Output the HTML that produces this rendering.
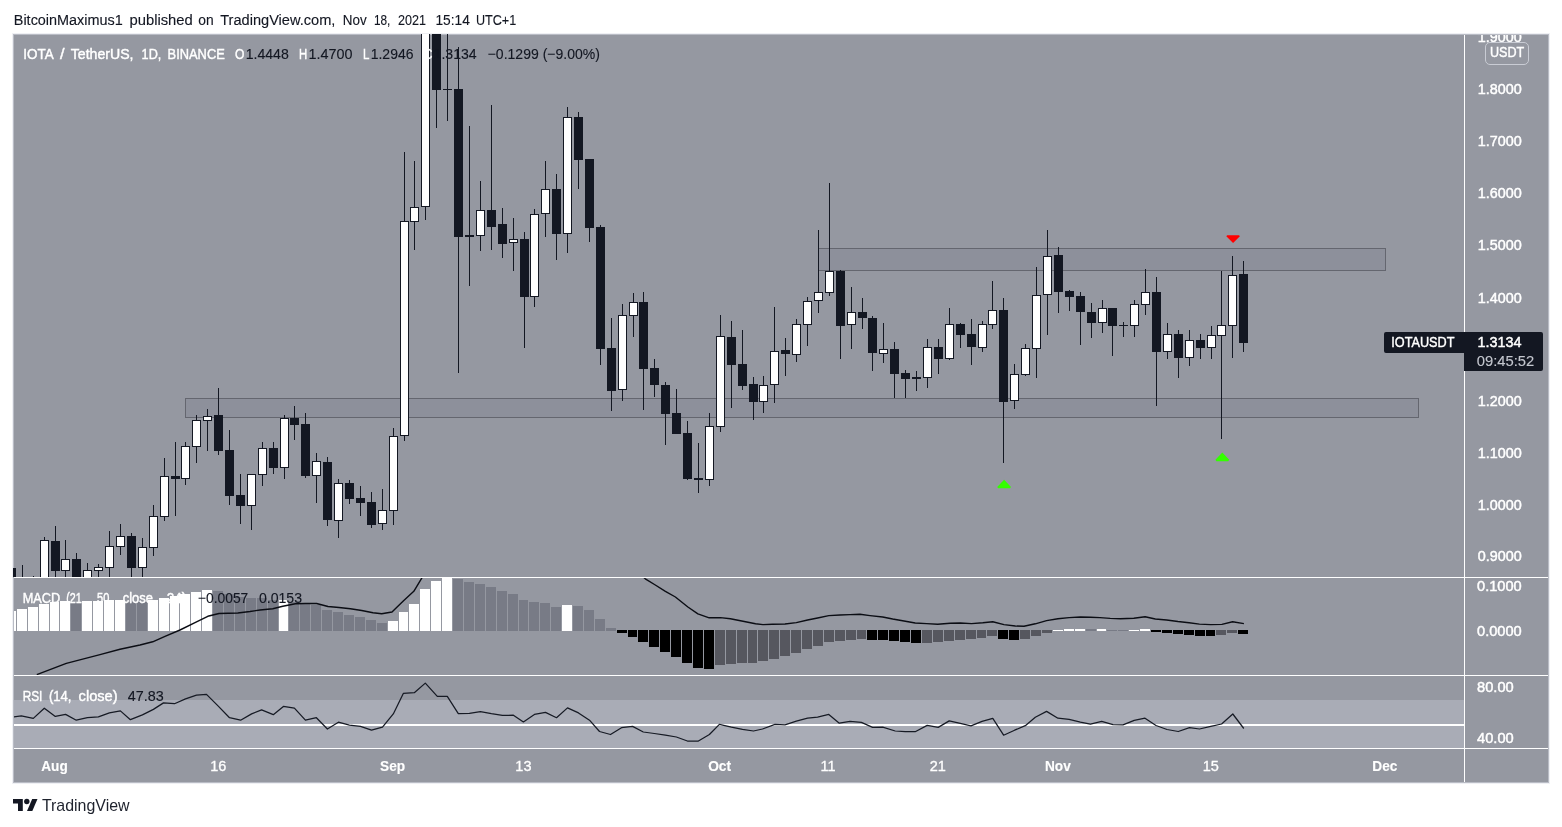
<!DOCTYPE html>
<html lang="en"><head><meta charset="utf-8"><title>IOTA / TetherUS chart</title>
<style>html,body{margin:0;padding:0;background:#fff}body{width:1562px;height:827px;overflow:hidden;position:relative;font-family:"Liberation Sans",sans-serif}</style></head>
<body>
<svg width="1562" height="827" viewBox="0 0 1562 827" style="position:absolute;left:0;top:0;display:block" font-family="'Liberation Sans', sans-serif">
<defs><clipPath id="cm"><rect x="13" y="34" width="1451" height="543"/></clipPath>
<clipPath id="cd"><rect x="14" y="578" width="1450" height="97"/></clipPath>
<clipPath id="cr"><rect x="14" y="676" width="1450" height="72"/></clipPath>
<clipPath id="ca"><rect x="1465" y="35" width="83" height="542"/></clipPath></defs>
<rect x="0" y="0" width="1562" height="827" fill="#ffffff"/>
<rect x="12" y="33" width="1538" height="751" fill="#eff0f4" shape-rendering="crispEdges"/>
<rect x="13" y="34" width="1536" height="749" fill="#b9bcc5" shape-rendering="crispEdges"/>
<rect x="14" y="35" width="1534" height="747" fill="#9598a1" shape-rendering="crispEdges"/>
<g clip-path="url(#cm)" shape-rendering="crispEdges">
<rect x="185.5" y="398.5" width="1233" height="19" fill="#8d909b" stroke="#64666f" stroke-width="1"/>
<rect x="818.5" y="248.5" width="567" height="22" fill="#8d909b" stroke="#64666f" stroke-width="1"/>
<rect x="11" y="568" width="1" height="32" fill="#131722"/>
<rect x="7" y="568" width="9" height="33" fill="#131722"/>
<rect x="22" y="565" width="1" height="35" fill="#131722"/>
<rect x="18" y="600" width="9" height="1" fill="#131722"/>
<rect x="33" y="576" width="1" height="24" fill="#131722"/>
<rect x="29" y="600" width="9" height="1" fill="#131722"/>
<rect x="44" y="537" width="1" height="63" fill="#131722"/>
<rect x="40" y="540" width="9" height="61" fill="#131722"/>
<rect x="41" y="541" width="7" height="59" fill="#ffffff"/>
<rect x="55" y="526" width="1" height="74" fill="#131722"/>
<rect x="51" y="541" width="9" height="30" fill="#131722"/>
<rect x="65" y="540" width="1" height="60" fill="#131722"/>
<rect x="61" y="559" width="9" height="12" fill="#131722"/>
<rect x="62" y="560" width="7" height="10" fill="#ffffff"/>
<rect x="76" y="553" width="1" height="47" fill="#131722"/>
<rect x="72" y="559" width="9" height="42" fill="#131722"/>
<rect x="87" y="563" width="1" height="37" fill="#131722"/>
<rect x="83" y="570" width="9" height="31" fill="#131722"/>
<rect x="84" y="571" width="7" height="29" fill="#ffffff"/>
<rect x="98" y="564" width="1" height="36" fill="#131722"/>
<rect x="94" y="567" width="9" height="4" fill="#131722"/>
<rect x="95" y="568" width="7" height="2" fill="#ffffff"/>
<rect x="109" y="531" width="1" height="69" fill="#131722"/>
<rect x="105" y="546" width="9" height="22" fill="#131722"/>
<rect x="106" y="547" width="7" height="20" fill="#ffffff"/>
<rect x="120" y="524" width="1" height="31" fill="#131722"/>
<rect x="116" y="536" width="9" height="11" fill="#131722"/>
<rect x="117" y="537" width="7" height="9" fill="#ffffff"/>
<rect x="131" y="533" width="1" height="67" fill="#131722"/>
<rect x="127" y="536" width="9" height="32" fill="#131722"/>
<rect x="142" y="538" width="1" height="62" fill="#131722"/>
<rect x="138" y="547" width="9" height="21" fill="#131722"/>
<rect x="139" y="548" width="7" height="19" fill="#ffffff"/>
<rect x="153" y="505" width="1" height="51" fill="#131722"/>
<rect x="149" y="516" width="9" height="32" fill="#131722"/>
<rect x="150" y="517" width="7" height="30" fill="#ffffff"/>
<rect x="164" y="458" width="1" height="63" fill="#131722"/>
<rect x="160" y="476" width="9" height="41" fill="#131722"/>
<rect x="161" y="477" width="7" height="39" fill="#ffffff"/>
<rect x="175" y="442" width="1" height="74" fill="#131722"/>
<rect x="171" y="476" width="9" height="3" fill="#131722"/>
<rect x="185" y="442" width="1" height="43" fill="#131722"/>
<rect x="181" y="446" width="9" height="33" fill="#131722"/>
<rect x="182" y="447" width="7" height="31" fill="#ffffff"/>
<rect x="196" y="415" width="1" height="48" fill="#131722"/>
<rect x="192" y="420" width="9" height="27" fill="#131722"/>
<rect x="193" y="421" width="7" height="25" fill="#ffffff"/>
<rect x="207" y="409" width="1" height="42" fill="#131722"/>
<rect x="203" y="416" width="9" height="5" fill="#131722"/>
<rect x="204" y="417" width="7" height="3" fill="#ffffff"/>
<rect x="218" y="388" width="1" height="67" fill="#131722"/>
<rect x="214" y="415" width="9" height="36" fill="#131722"/>
<rect x="229" y="430" width="1" height="75" fill="#131722"/>
<rect x="225" y="450" width="9" height="46" fill="#131722"/>
<rect x="240" y="474" width="1" height="50" fill="#131722"/>
<rect x="236" y="495" width="9" height="11" fill="#131722"/>
<rect x="251" y="474" width="1" height="56" fill="#131722"/>
<rect x="247" y="474" width="9" height="32" fill="#131722"/>
<rect x="248" y="475" width="7" height="30" fill="#ffffff"/>
<rect x="262" y="442" width="1" height="44" fill="#131722"/>
<rect x="258" y="448" width="9" height="27" fill="#131722"/>
<rect x="259" y="449" width="7" height="25" fill="#ffffff"/>
<rect x="273" y="442" width="1" height="32" fill="#131722"/>
<rect x="269" y="448" width="9" height="20" fill="#131722"/>
<rect x="284" y="415" width="1" height="64" fill="#131722"/>
<rect x="280" y="418" width="9" height="50" fill="#131722"/>
<rect x="281" y="419" width="7" height="48" fill="#ffffff"/>
<rect x="294" y="406" width="1" height="34" fill="#131722"/>
<rect x="290" y="418" width="9" height="7" fill="#131722"/>
<rect x="305" y="413" width="1" height="65" fill="#131722"/>
<rect x="301" y="424" width="9" height="52" fill="#131722"/>
<rect x="316" y="453" width="1" height="50" fill="#131722"/>
<rect x="312" y="461" width="9" height="15" fill="#131722"/>
<rect x="313" y="462" width="7" height="13" fill="#ffffff"/>
<rect x="327" y="457" width="1" height="69" fill="#131722"/>
<rect x="323" y="462" width="9" height="58" fill="#131722"/>
<rect x="338" y="479" width="1" height="59" fill="#131722"/>
<rect x="334" y="483" width="9" height="38" fill="#131722"/>
<rect x="335" y="484" width="7" height="36" fill="#ffffff"/>
<rect x="349" y="480" width="1" height="24" fill="#131722"/>
<rect x="345" y="483" width="9" height="16" fill="#131722"/>
<rect x="360" y="486" width="1" height="30" fill="#131722"/>
<rect x="356" y="498" width="9" height="5" fill="#131722"/>
<rect x="371" y="492" width="1" height="36" fill="#131722"/>
<rect x="367" y="502" width="9" height="23" fill="#131722"/>
<rect x="382" y="489" width="1" height="41" fill="#131722"/>
<rect x="378" y="510" width="9" height="14" fill="#131722"/>
<rect x="379" y="511" width="7" height="12" fill="#ffffff"/>
<rect x="393" y="428" width="1" height="97" fill="#131722"/>
<rect x="389" y="436" width="9" height="75" fill="#131722"/>
<rect x="390" y="437" width="7" height="73" fill="#ffffff"/>
<rect x="404" y="152" width="1" height="289" fill="#131722"/>
<rect x="400" y="221" width="9" height="215" fill="#131722"/>
<rect x="401" y="222" width="7" height="213" fill="#ffffff"/>
<rect x="414" y="161" width="1" height="89" fill="#131722"/>
<rect x="410" y="207" width="9" height="15" fill="#131722"/>
<rect x="411" y="208" width="7" height="13" fill="#ffffff"/>
<rect x="425" y="20" width="1" height="200" fill="#131722"/>
<rect x="421" y="20" width="9" height="187" fill="#131722"/>
<rect x="422" y="21" width="7" height="185" fill="#ffffff"/>
<rect x="436" y="20" width="1" height="108" fill="#131722"/>
<rect x="432" y="20" width="9" height="70" fill="#131722"/>
<rect x="447" y="20" width="1" height="101" fill="#131722"/>
<rect x="443" y="89" width="9" height="1" fill="#131722"/>
<rect x="458" y="47" width="1" height="326" fill="#131722"/>
<rect x="454" y="89" width="9" height="148" fill="#131722"/>
<rect x="469" y="126" width="1" height="160" fill="#131722"/>
<rect x="465" y="235" width="9" height="2" fill="#131722"/>
<rect x="480" y="181" width="1" height="70" fill="#131722"/>
<rect x="476" y="210" width="9" height="26" fill="#131722"/>
<rect x="477" y="211" width="7" height="24" fill="#ffffff"/>
<rect x="491" y="105" width="1" height="145" fill="#131722"/>
<rect x="487" y="210" width="9" height="17" fill="#131722"/>
<rect x="502" y="208" width="1" height="50" fill="#131722"/>
<rect x="498" y="224" width="9" height="20" fill="#131722"/>
<rect x="513" y="218" width="1" height="53" fill="#131722"/>
<rect x="509" y="239" width="9" height="4" fill="#131722"/>
<rect x="510" y="240" width="7" height="2" fill="#ffffff"/>
<rect x="524" y="232" width="1" height="116" fill="#131722"/>
<rect x="520" y="239" width="9" height="58" fill="#131722"/>
<rect x="534" y="209" width="1" height="98" fill="#131722"/>
<rect x="530" y="214" width="9" height="83" fill="#131722"/>
<rect x="531" y="215" width="7" height="81" fill="#ffffff"/>
<rect x="545" y="161" width="1" height="76" fill="#131722"/>
<rect x="541" y="189" width="9" height="25" fill="#131722"/>
<rect x="542" y="190" width="7" height="23" fill="#ffffff"/>
<rect x="556" y="174" width="1" height="86" fill="#131722"/>
<rect x="552" y="189" width="9" height="45" fill="#131722"/>
<rect x="567" y="107" width="1" height="146" fill="#131722"/>
<rect x="563" y="117" width="9" height="117" fill="#131722"/>
<rect x="564" y="118" width="7" height="115" fill="#ffffff"/>
<rect x="578" y="112" width="1" height="77" fill="#131722"/>
<rect x="574" y="117" width="9" height="43" fill="#131722"/>
<rect x="589" y="159" width="1" height="83" fill="#131722"/>
<rect x="585" y="159" width="9" height="69" fill="#131722"/>
<rect x="600" y="225" width="1" height="140" fill="#131722"/>
<rect x="596" y="227" width="9" height="122" fill="#131722"/>
<rect x="611" y="318" width="1" height="93" fill="#131722"/>
<rect x="607" y="348" width="9" height="43" fill="#131722"/>
<rect x="622" y="304" width="1" height="97" fill="#131722"/>
<rect x="618" y="315" width="9" height="75" fill="#131722"/>
<rect x="619" y="316" width="7" height="73" fill="#ffffff"/>
<rect x="633" y="293" width="1" height="44" fill="#131722"/>
<rect x="629" y="302" width="9" height="14" fill="#131722"/>
<rect x="630" y="303" width="7" height="12" fill="#ffffff"/>
<rect x="643" y="292" width="1" height="118" fill="#131722"/>
<rect x="639" y="302" width="9" height="67" fill="#131722"/>
<rect x="654" y="359" width="1" height="38" fill="#131722"/>
<rect x="650" y="368" width="9" height="17" fill="#131722"/>
<rect x="665" y="382" width="1" height="63" fill="#131722"/>
<rect x="661" y="385" width="9" height="29" fill="#131722"/>
<rect x="676" y="389" width="1" height="45" fill="#131722"/>
<rect x="672" y="413" width="9" height="21" fill="#131722"/>
<rect x="687" y="421" width="1" height="59" fill="#131722"/>
<rect x="683" y="433" width="9" height="46" fill="#131722"/>
<rect x="698" y="443" width="1" height="50" fill="#131722"/>
<rect x="694" y="478" width="9" height="2" fill="#131722"/>
<rect x="709" y="413" width="1" height="73" fill="#131722"/>
<rect x="705" y="426" width="9" height="54" fill="#131722"/>
<rect x="706" y="427" width="7" height="52" fill="#ffffff"/>
<rect x="720" y="315" width="1" height="117" fill="#131722"/>
<rect x="716" y="336" width="9" height="91" fill="#131722"/>
<rect x="717" y="337" width="7" height="89" fill="#ffffff"/>
<rect x="731" y="321" width="1" height="87" fill="#131722"/>
<rect x="727" y="337" width="9" height="28" fill="#131722"/>
<rect x="742" y="330" width="1" height="60" fill="#131722"/>
<rect x="738" y="364" width="9" height="22" fill="#131722"/>
<rect x="753" y="377" width="1" height="43" fill="#131722"/>
<rect x="749" y="384" width="9" height="18" fill="#131722"/>
<rect x="763" y="376" width="1" height="37" fill="#131722"/>
<rect x="759" y="385" width="9" height="17" fill="#131722"/>
<rect x="760" y="386" width="7" height="15" fill="#ffffff"/>
<rect x="774" y="307" width="1" height="96" fill="#131722"/>
<rect x="770" y="351" width="9" height="34" fill="#131722"/>
<rect x="771" y="352" width="7" height="32" fill="#ffffff"/>
<rect x="785" y="338" width="1" height="38" fill="#131722"/>
<rect x="781" y="350" width="9" height="4" fill="#131722"/>
<rect x="796" y="319" width="1" height="43" fill="#131722"/>
<rect x="792" y="324" width="9" height="31" fill="#131722"/>
<rect x="793" y="325" width="7" height="29" fill="#ffffff"/>
<rect x="807" y="297" width="1" height="49" fill="#131722"/>
<rect x="803" y="301" width="9" height="24" fill="#131722"/>
<rect x="804" y="302" width="7" height="22" fill="#ffffff"/>
<rect x="818" y="230" width="1" height="83" fill="#131722"/>
<rect x="814" y="292" width="9" height="9" fill="#131722"/>
<rect x="815" y="293" width="7" height="7" fill="#ffffff"/>
<rect x="829" y="183" width="1" height="113" fill="#131722"/>
<rect x="825" y="271" width="9" height="22" fill="#131722"/>
<rect x="826" y="272" width="7" height="20" fill="#ffffff"/>
<rect x="840" y="270" width="1" height="89" fill="#131722"/>
<rect x="836" y="271" width="9" height="55" fill="#131722"/>
<rect x="851" y="287" width="1" height="62" fill="#131722"/>
<rect x="847" y="312" width="9" height="13" fill="#131722"/>
<rect x="848" y="313" width="7" height="11" fill="#ffffff"/>
<rect x="862" y="298" width="1" height="31" fill="#131722"/>
<rect x="858" y="312" width="9" height="6" fill="#131722"/>
<rect x="872" y="316" width="1" height="55" fill="#131722"/>
<rect x="868" y="318" width="9" height="35" fill="#131722"/>
<rect x="883" y="323" width="1" height="40" fill="#131722"/>
<rect x="879" y="349" width="9" height="5" fill="#131722"/>
<rect x="880" y="350" width="7" height="3" fill="#ffffff"/>
<rect x="894" y="342" width="1" height="56" fill="#131722"/>
<rect x="890" y="349" width="9" height="25" fill="#131722"/>
<rect x="905" y="370" width="1" height="28" fill="#131722"/>
<rect x="901" y="373" width="9" height="6" fill="#131722"/>
<rect x="916" y="371" width="1" height="20" fill="#131722"/>
<rect x="912" y="377" width="9" height="2" fill="#131722"/>
<rect x="927" y="339" width="1" height="49" fill="#131722"/>
<rect x="923" y="347" width="9" height="31" fill="#131722"/>
<rect x="924" y="348" width="7" height="29" fill="#ffffff"/>
<rect x="938" y="339" width="1" height="35" fill="#131722"/>
<rect x="934" y="347" width="9" height="12" fill="#131722"/>
<rect x="949" y="308" width="1" height="52" fill="#131722"/>
<rect x="945" y="324" width="9" height="35" fill="#131722"/>
<rect x="946" y="325" width="7" height="33" fill="#ffffff"/>
<rect x="960" y="323" width="1" height="25" fill="#131722"/>
<rect x="956" y="324" width="9" height="11" fill="#131722"/>
<rect x="971" y="319" width="1" height="46" fill="#131722"/>
<rect x="967" y="334" width="9" height="13" fill="#131722"/>
<rect x="982" y="321" width="1" height="31" fill="#131722"/>
<rect x="978" y="324" width="9" height="24" fill="#131722"/>
<rect x="979" y="325" width="7" height="22" fill="#ffffff"/>
<rect x="992" y="281" width="1" height="48" fill="#131722"/>
<rect x="988" y="310" width="9" height="15" fill="#131722"/>
<rect x="989" y="311" width="7" height="13" fill="#ffffff"/>
<rect x="1003" y="298" width="1" height="165" fill="#131722"/>
<rect x="999" y="310" width="9" height="92" fill="#131722"/>
<rect x="1014" y="364" width="1" height="45" fill="#131722"/>
<rect x="1010" y="374" width="9" height="27" fill="#131722"/>
<rect x="1011" y="375" width="7" height="25" fill="#ffffff"/>
<rect x="1025" y="344" width="1" height="32" fill="#131722"/>
<rect x="1021" y="348" width="9" height="27" fill="#131722"/>
<rect x="1022" y="349" width="7" height="25" fill="#ffffff"/>
<rect x="1036" y="267" width="1" height="111" fill="#131722"/>
<rect x="1032" y="295" width="9" height="54" fill="#131722"/>
<rect x="1033" y="296" width="7" height="52" fill="#ffffff"/>
<rect x="1047" y="230" width="1" height="105" fill="#131722"/>
<rect x="1043" y="256" width="9" height="39" fill="#131722"/>
<rect x="1044" y="257" width="7" height="37" fill="#ffffff"/>
<rect x="1058" y="247" width="1" height="66" fill="#131722"/>
<rect x="1054" y="255" width="9" height="37" fill="#131722"/>
<rect x="1069" y="290" width="1" height="21" fill="#131722"/>
<rect x="1065" y="291" width="9" height="6" fill="#131722"/>
<rect x="1080" y="292" width="1" height="53" fill="#131722"/>
<rect x="1076" y="296" width="9" height="16" fill="#131722"/>
<rect x="1091" y="303" width="1" height="35" fill="#131722"/>
<rect x="1087" y="312" width="9" height="11" fill="#131722"/>
<rect x="1102" y="300" width="1" height="33" fill="#131722"/>
<rect x="1098" y="308" width="9" height="15" fill="#131722"/>
<rect x="1099" y="309" width="7" height="13" fill="#ffffff"/>
<rect x="1112" y="308" width="1" height="48" fill="#131722"/>
<rect x="1108" y="308" width="9" height="18" fill="#131722"/>
<rect x="1123" y="322" width="1" height="15" fill="#131722"/>
<rect x="1119" y="325" width="9" height="1" fill="#131722"/>
<rect x="1134" y="300" width="1" height="37" fill="#131722"/>
<rect x="1130" y="304" width="9" height="22" fill="#131722"/>
<rect x="1131" y="305" width="7" height="20" fill="#ffffff"/>
<rect x="1145" y="269" width="1" height="46" fill="#131722"/>
<rect x="1141" y="292" width="9" height="13" fill="#131722"/>
<rect x="1142" y="293" width="7" height="11" fill="#ffffff"/>
<rect x="1156" y="277" width="1" height="129" fill="#131722"/>
<rect x="1152" y="292" width="9" height="60" fill="#131722"/>
<rect x="1167" y="323" width="1" height="36" fill="#131722"/>
<rect x="1163" y="334" width="9" height="18" fill="#131722"/>
<rect x="1164" y="335" width="7" height="16" fill="#ffffff"/>
<rect x="1178" y="330" width="1" height="48" fill="#131722"/>
<rect x="1174" y="334" width="9" height="24" fill="#131722"/>
<rect x="1189" y="330" width="1" height="36" fill="#131722"/>
<rect x="1185" y="340" width="9" height="18" fill="#131722"/>
<rect x="1186" y="341" width="7" height="16" fill="#ffffff"/>
<rect x="1200" y="334" width="1" height="25" fill="#131722"/>
<rect x="1196" y="340" width="9" height="8" fill="#131722"/>
<rect x="1211" y="326" width="1" height="33" fill="#131722"/>
<rect x="1207" y="335" width="9" height="13" fill="#131722"/>
<rect x="1208" y="336" width="7" height="11" fill="#ffffff"/>
<rect x="1221" y="271" width="1" height="168" fill="#131722"/>
<rect x="1217" y="325" width="9" height="11" fill="#131722"/>
<rect x="1218" y="326" width="7" height="9" fill="#ffffff"/>
<rect x="1232" y="256" width="1" height="102" fill="#131722"/>
<rect x="1228" y="275" width="9" height="51" fill="#131722"/>
<rect x="1229" y="276" width="7" height="49" fill="#ffffff"/>
<rect x="1243" y="261" width="1" height="91" fill="#131722"/>
<rect x="1239" y="274" width="9" height="69" fill="#131722"/>
</g>
<polygon points="1004.1,479.7 1011,486.9 1010,488.3 998.2,488.3 997.2,486.9" fill="#33ff00"/>
<polygon points="1222.3,452.6 1229.2,459.8 1228.2,461.2 1216.4,461.2 1215.4,459.8" fill="#33ff00"/>
<polygon points="1227.2,235.2 1239,235.2 1239.9,236.3 1233.1,243.1 1226.3,236.3" fill="#ff0000"/>
<g clip-path="url(#cd)" shape-rendering="crispEdges">
<rect x="6" y="611" width="10" height="20" fill="#ffffff"/>
<rect x="17" y="609" width="10" height="22" fill="#ffffff"/>
<rect x="28" y="607" width="10" height="24" fill="#ffffff"/>
<rect x="39" y="604" width="10" height="27" fill="#ffffff"/>
<rect x="50" y="602" width="9" height="29" fill="#ffffff"/>
<rect x="60" y="601" width="10" height="30" fill="#ffffff"/>
<rect x="71" y="602" width="10" height="29" fill="#787b86"/>
<rect x="82" y="601" width="10" height="30" fill="#ffffff"/>
<rect x="93" y="601" width="10" height="30" fill="#ffffff"/>
<rect x="104" y="600" width="10" height="31" fill="#ffffff"/>
<rect x="115" y="600" width="10" height="31" fill="#ffffff"/>
<rect x="126" y="602" width="10" height="29" fill="#787b86"/>
<rect x="137" y="602" width="10" height="29" fill="#787b86"/>
<rect x="148" y="600" width="10" height="31" fill="#ffffff"/>
<rect x="159" y="598" width="10" height="33" fill="#ffffff"/>
<rect x="170" y="596" width="9" height="35" fill="#ffffff"/>
<rect x="180" y="594" width="10" height="37" fill="#ffffff"/>
<rect x="191" y="592" width="10" height="39" fill="#ffffff"/>
<rect x="202" y="590" width="10" height="41" fill="#ffffff"/>
<rect x="213" y="591" width="10" height="40" fill="#787b86"/>
<rect x="224" y="594" width="10" height="37" fill="#787b86"/>
<rect x="235" y="597" width="10" height="34" fill="#787b86"/>
<rect x="246" y="598" width="10" height="33" fill="#787b86"/>
<rect x="257" y="598" width="10" height="33" fill="#787b86"/>
<rect x="268" y="600" width="10" height="31" fill="#787b86"/>
<rect x="279" y="600" width="9" height="31" fill="#ffffff"/>
<rect x="289" y="602" width="10" height="29" fill="#787b86"/>
<rect x="300" y="604" width="10" height="27" fill="#787b86"/>
<rect x="311" y="605" width="10" height="26" fill="#787b86"/>
<rect x="322" y="610" width="10" height="21" fill="#787b86"/>
<rect x="333" y="612" width="10" height="19" fill="#787b86"/>
<rect x="344" y="615" width="10" height="16" fill="#787b86"/>
<rect x="355" y="617" width="10" height="14" fill="#787b86"/>
<rect x="366" y="620" width="10" height="11" fill="#787b86"/>
<rect x="377" y="623" width="10" height="8" fill="#787b86"/>
<rect x="388" y="621" width="10" height="10" fill="#ffffff"/>
<rect x="399" y="612" width="9" height="19" fill="#ffffff"/>
<rect x="409" y="604" width="10" height="27" fill="#ffffff"/>
<rect x="420" y="589" width="10" height="42" fill="#ffffff"/>
<rect x="431" y="581" width="10" height="50" fill="#ffffff"/>
<rect x="442" y="570" width="10" height="61" fill="#ffffff"/>
<rect x="453" y="579" width="10" height="52" fill="#787b86"/>
<rect x="464" y="582" width="10" height="49" fill="#787b86"/>
<rect x="475" y="584" width="10" height="47" fill="#787b86"/>
<rect x="486" y="587" width="10" height="44" fill="#787b86"/>
<rect x="497" y="591" width="10" height="40" fill="#787b86"/>
<rect x="508" y="594" width="10" height="37" fill="#787b86"/>
<rect x="519" y="600" width="9" height="31" fill="#787b86"/>
<rect x="529" y="602" width="10" height="29" fill="#787b86"/>
<rect x="540" y="603" width="10" height="28" fill="#787b86"/>
<rect x="551" y="607" width="10" height="24" fill="#787b86"/>
<rect x="562" y="605" width="10" height="26" fill="#ffffff"/>
<rect x="573" y="606" width="10" height="25" fill="#787b86"/>
<rect x="584" y="610" width="10" height="21" fill="#787b86"/>
<rect x="595" y="619" width="10" height="12" fill="#787b86"/>
<rect x="606" y="628" width="10" height="3" fill="#787b86"/>
<rect x="617" y="630" width="10" height="3" fill="#000000"/>
<rect x="628" y="630" width="9" height="7" fill="#000000"/>
<rect x="638" y="630" width="10" height="12" fill="#000000"/>
<rect x="649" y="630" width="10" height="17" fill="#000000"/>
<rect x="660" y="630" width="10" height="22" fill="#000000"/>
<rect x="671" y="630" width="10" height="27" fill="#000000"/>
<rect x="682" y="630" width="10" height="33" fill="#000000"/>
<rect x="693" y="630" width="10" height="38" fill="#000000"/>
<rect x="704" y="630" width="10" height="39" fill="#000000"/>
<rect x="715" y="630" width="10" height="35" fill="#56575f"/>
<rect x="726" y="630" width="10" height="34" fill="#56575f"/>
<rect x="737" y="630" width="10" height="33" fill="#56575f"/>
<rect x="748" y="630" width="9" height="33" fill="#56575f"/>
<rect x="758" y="630" width="10" height="31" fill="#56575f"/>
<rect x="769" y="630" width="10" height="29" fill="#56575f"/>
<rect x="780" y="630" width="10" height="26" fill="#56575f"/>
<rect x="791" y="630" width="10" height="23" fill="#56575f"/>
<rect x="802" y="630" width="10" height="19" fill="#56575f"/>
<rect x="813" y="630" width="10" height="16" fill="#56575f"/>
<rect x="824" y="630" width="10" height="12" fill="#56575f"/>
<rect x="835" y="630" width="10" height="11" fill="#56575f"/>
<rect x="846" y="630" width="10" height="10" fill="#56575f"/>
<rect x="857" y="630" width="9" height="9" fill="#56575f"/>
<rect x="867" y="630" width="10" height="10" fill="#000000"/>
<rect x="878" y="630" width="10" height="10" fill="#000000"/>
<rect x="889" y="630" width="10" height="11" fill="#000000"/>
<rect x="900" y="630" width="10" height="12" fill="#000000"/>
<rect x="911" y="630" width="10" height="13" fill="#000000"/>
<rect x="922" y="630" width="10" height="13" fill="#56575f"/>
<rect x="933" y="630" width="10" height="12" fill="#56575f"/>
<rect x="944" y="630" width="10" height="11" fill="#56575f"/>
<rect x="955" y="630" width="10" height="10" fill="#56575f"/>
<rect x="966" y="630" width="10" height="9" fill="#56575f"/>
<rect x="977" y="630" width="9" height="8" fill="#56575f"/>
<rect x="987" y="630" width="10" height="6" fill="#56575f"/>
<rect x="998" y="630" width="10" height="9" fill="#000000"/>
<rect x="1009" y="630" width="10" height="10" fill="#000000"/>
<rect x="1020" y="630" width="10" height="9" fill="#56575f"/>
<rect x="1031" y="630" width="10" height="6" fill="#56575f"/>
<rect x="1042" y="630" width="10" height="3" fill="#56575f"/>
<rect x="1053" y="629.6" width="10" height="1.3999999999999773" fill="#ffffff"/>
<rect x="1064" y="629" width="10" height="2" fill="#ffffff"/>
<rect x="1075" y="629" width="10" height="2" fill="#ffffff"/>
<rect x="1086" y="629.4" width="10" height="1.6000000000000227" fill="#787b86"/>
<rect x="1097" y="629" width="9" height="2" fill="#ffffff"/>
<rect x="1107" y="629.8" width="10" height="1.2000000000000455" fill="#787b86"/>
<rect x="1118" y="629.8" width="10" height="1.2000000000000455" fill="#787b86"/>
<rect x="1129" y="629.6" width="10" height="1.3999999999999773" fill="#ffffff"/>
<rect x="1140" y="629" width="10" height="2" fill="#ffffff"/>
<rect x="1151" y="630" width="10" height="2" fill="#000000"/>
<rect x="1162" y="630" width="10" height="3" fill="#000000"/>
<rect x="1173" y="630" width="10" height="4" fill="#000000"/>
<rect x="1184" y="630" width="10" height="5" fill="#000000"/>
<rect x="1195" y="630" width="10" height="6" fill="#000000"/>
<rect x="1206" y="630" width="9" height="6" fill="#000000"/>
<rect x="1216" y="630" width="10" height="5" fill="#56575f"/>
<rect x="1227" y="630" width="10" height="3" fill="#56575f"/>
<rect x="1238" y="630" width="10" height="4" fill="#000000"/>
</g>
<g clip-path="url(#cd)" fill="none" stroke="#0b0d14" stroke-width="1.4" stroke-linejoin="round">
<polyline points="36.8,674.6 66.3,663.4 100,654.6 120,649.3 140,645 152.7,641.8 165,636.3 180,630 195,622.6 207.8,616.3 219,613.5 237.8,613 250,611.5 260,610 272.8,608.8 282.8,606.3 295.4,603.8 305.4,603.5 316.6,603.5 328,606.5 339,607.5 350.4,608.8 361.7,610.5 373,612.8 381.7,613.8 392,612 403.8,600.5 413.8,591.3 421.3,578.8 428,568"/>
<polyline points="638,572 645.3,578.8 655.3,585 665.4,591.3 675.4,597 687.9,607 697.9,613.8 709.2,617.8 720.4,617.6 730.4,618.8 743,621.3 755.5,623.8 763,624.6 772.5,624.3 785,624 796.3,622.6 807.6,620 817.6,618 828.8,615.6 840,615 850,614.6 860,614.3 870,615.6 882.7,617 892.7,619 904,621 915.2,623 926.5,623.6 937.7,624.3 950.2,623.3 960.3,623 971.5,623.6 982.8,622.8 992.8,621.8 1004,624.6 1015.3,626 1024,626.3 1035.3,623.8 1046.6,620.6 1057.9,618.8 1069.1,617.6 1080.4,617 1090.4,617.3 1100,617.6 1110.2,618.4 1120.5,618.7 1133.8,618.2 1145.1,616.7 1155.3,619 1166.6,620 1177.9,621.5 1189.1,622.7 1199.4,624.1 1210.6,624.6 1221.9,624.4 1232.6,621.8 1243.9,623.6"/>
</g>
<rect x="14" y="700" width="1450" height="48" fill="#a9acb6" shape-rendering="crispEdges"/>
<rect x="14" y="724" width="1450" height="2" fill="#ffffff" shape-rendering="crispEdges"/>
<g clip-path="url(#cr)" fill="none" stroke="#161a24" stroke-width="1.25" stroke-linejoin="round">
<polyline points="13,716.9 21.3,715.9 33.3,718.4 44.3,708.2 55.3,716.4 65.6,714.4 76.3,720.2 87.4,717.7 98.4,716.9 109.4,712.9 120.4,710.9 130.4,719.7 142.4,714.9 153.4,709.4 163.5,702.9 174.5,703.7 185.5,698.9 196.5,695.2 206.5,694.4 218.5,706.4 229.5,717.7 240.6,720.2 251.6,713.9 261.6,709.9 273.3,714.7 283.4,706.4 294.4,708.2 305.4,720.2 316.4,717.7 327.4,729 338.4,722.2 349.4,725.2 360.5,726.4 371.5,730.2 382.5,727.2 393.3,713.9 403.3,693.4 414.3,692.7 425.3,683.1 437.3,696.4 447.3,696.4 458.3,713.7 469.4,713.4 480.4,711.7 491.4,713.7 502.4,715.4 513.4,715.2 523.4,721.9 534.4,714.4 545.5,712.4 556.5,717.7 567.5,707.9 578.5,712.9 589.5,720.2 599.5,731.5 610.5,734.5 621.5,727.7 632.6,726.4 643.3,732 654.3,733.5 665.4,735.2 676.4,737 687.4,741 698.4,741 709.4,734.5 719.4,724.4 731.4,727.2 742.5,729.4 753.5,731 762.5,729 775,724.4 785,724.9 796.3,721.2 807.6,718.2 817.6,717.2 828.8,714.4 839.3,723.2 850,721.4 861.4,722.4 872.6,727.4 882.7,727.2 895.2,731 905.2,731.7 915.2,731.7 927.2,725.4 938.2,727.4 949.2,720.9 960.3,723.4 971,725.9 982,721.4 992.8,718.4 1003.6,735.2 1014.6,730.2 1025.3,725.7 1035.3,717.2 1046.6,711.4 1057.9,718.2 1069.1,719.4 1080.4,722.2 1090.4,724.2 1101.7,721.4 1113,724.7 1123,724.9 1134.2,720.4 1145,718.2 1156,725.5 1167,729.5 1178.3,731.5 1189.5,727.7 1199.5,729 1210.8,726.4 1221.6,724 1232.8,714 1243.8,728.5"/>
</g>
<g fill="#ffffff" shape-rendering="crispEdges">
<rect x="14" y="577" width="1534" height="1"/>
<rect x="14" y="675" width="1534" height="1"/>
<rect x="14" y="748" width="1534" height="1"/>
<rect x="1464" y="35" width="1" height="747"/>
</g>
<text y="24.7" font-size="14.9" fill="#131722" stroke="#131722" stroke-width="0.12"><tspan x="13.8" textLength="109.0" lengthAdjust="spacingAndGlyphs">BitcoinMaximus1</tspan> <tspan x="129.5" textLength="63.3" lengthAdjust="spacingAndGlyphs">published</tspan> <tspan x="198.2" textLength="15.4" lengthAdjust="spacingAndGlyphs">on</tspan> <tspan x="220.2" textLength="115.2" lengthAdjust="spacingAndGlyphs">TradingView.com,</tspan> <tspan x="342.8" textLength="23.9" lengthAdjust="spacingAndGlyphs">Nov</tspan> <tspan x="373.9" textLength="16.4" lengthAdjust="spacingAndGlyphs">18,</tspan> <tspan x="398.1" textLength="28.0" lengthAdjust="spacingAndGlyphs">2021</tspan> <tspan x="435.4" textLength="34.4" lengthAdjust="spacingAndGlyphs">15:14</tspan> <tspan x="475.9" textLength="40.4" lengthAdjust="spacingAndGlyphs">UTC+1</tspan></text>
<text y="58.8" font-size="15" fill="#ffffff" stroke="#ffffff" stroke-width="0.45"><tspan x="23.3" textLength="29.6" lengthAdjust="spacingAndGlyphs">IOTA</tspan> <tspan x="60" textLength="4.5" lengthAdjust="spacingAndGlyphs">/</tspan> <tspan x="70.8" textLength="62.7" lengthAdjust="spacingAndGlyphs">TetherUS,</tspan> <tspan x="141.6" textLength="19.7" lengthAdjust="spacingAndGlyphs">1D,</tspan> <tspan x="167.6" textLength="57.2" lengthAdjust="spacingAndGlyphs">BINANCE</tspan></text>
<text x="235" y="58.8" font-size="15" fill="#ffffff" font-weight="normal" text-anchor="start" textLength="9.4" lengthAdjust="spacingAndGlyphs" stroke="#ffffff" stroke-width="0.45">O</text>
<text x="245.7" y="58.8" font-size="15" fill="#131722" font-weight="normal" text-anchor="start" textLength="43.1" lengthAdjust="spacingAndGlyphs" stroke="#131722" stroke-width="0.12">1.4448</text>
<text x="299" y="58.8" font-size="15" fill="#ffffff" font-weight="normal" text-anchor="start" textLength="8.2" lengthAdjust="spacingAndGlyphs" stroke="#ffffff" stroke-width="0.45">H</text>
<text x="308.5" y="58.8" font-size="15" fill="#131722" font-weight="normal" text-anchor="start" textLength="44" lengthAdjust="spacingAndGlyphs" stroke="#131722" stroke-width="0.12">1.4700</text>
<text x="363" y="58.8" font-size="15" fill="#ffffff" font-weight="normal" text-anchor="start" textLength="6.4" lengthAdjust="spacingAndGlyphs" stroke="#ffffff" stroke-width="0.45">L</text>
<text x="370.7" y="58.8" font-size="15" fill="#131722" font-weight="normal" text-anchor="start" textLength="42.8" lengthAdjust="spacingAndGlyphs" stroke="#131722" stroke-width="0.12">1.2946</text>
<text x="424.5" y="58.8" font-size="15" fill="#ffffff" font-weight="normal" text-anchor="start" textLength="7.8" lengthAdjust="spacingAndGlyphs" stroke="#ffffff" stroke-width="0.45">C</text>
<text x="433.6" y="58.8" font-size="15" fill="#131722" font-weight="normal" text-anchor="start" textLength="43.1" lengthAdjust="spacingAndGlyphs" stroke="#131722" stroke-width="0.12">1.3134</text>
<text x="487.7" y="58.8" font-size="15" fill="#131722" font-weight="normal" text-anchor="start" textLength="112.2" lengthAdjust="spacingAndGlyphs" stroke="#131722" stroke-width="0.12">−0.1299 (−9.00%)</text>
<text y="602.6" font-size="15" fill="#ffffff" stroke="#ffffff" stroke-width="0.45"><tspan x="22.7" textLength="37.5" lengthAdjust="spacingAndGlyphs">MACD</tspan> <tspan x="66.3" textLength="18.5" lengthAdjust="spacingAndGlyphs">(21,</tspan> <tspan x="97.1" textLength="15.3" lengthAdjust="spacingAndGlyphs">50,</tspan> <tspan x="122.7" textLength="33.8" lengthAdjust="spacingAndGlyphs">close,</tspan> <tspan x="166.7" textLength="19.5" lengthAdjust="spacingAndGlyphs">24)</tspan></text>
<text x="198" y="602.6" font-size="15" fill="#131722" font-weight="normal" text-anchor="start" textLength="50.3" lengthAdjust="spacingAndGlyphs" stroke="#131722" stroke-width="0.12">−0.0057</text>
<text x="258.9" y="602.6" font-size="15" fill="#131722" font-weight="normal" text-anchor="start" textLength="43.1" lengthAdjust="spacingAndGlyphs" stroke="#131722" stroke-width="0.12">0.0153</text>
<text y="700.6" font-size="15" fill="#ffffff" stroke="#ffffff" stroke-width="0.45"><tspan x="22.7" textLength="19.7" lengthAdjust="spacingAndGlyphs">RSI</tspan> <tspan x="48.9" textLength="22.6" lengthAdjust="spacingAndGlyphs">(14,</tspan> <tspan x="78.6" textLength="39.0" lengthAdjust="spacingAndGlyphs">close)</tspan></text>
<text x="127.8" y="700.6" font-size="15" fill="#131722" font-weight="normal" text-anchor="start" textLength="35.9" lengthAdjust="spacingAndGlyphs" stroke="#131722" stroke-width="0.12">47.83</text>
<g clip-path="url(#ca)">
<text x="1477.7" y="42.45" font-size="14.5" fill="#ffffff" font-weight="normal" text-anchor="start" textLength="44" lengthAdjust="spacingAndGlyphs" stroke="#ffffff" stroke-width="0.45">1.9000</text>
<text x="1477.7" y="94.45" font-size="14.5" fill="#ffffff" font-weight="normal" text-anchor="start" textLength="44" lengthAdjust="spacingAndGlyphs" stroke="#ffffff" stroke-width="0.45">1.8000</text>
<text x="1477.7" y="146.45" font-size="14.5" fill="#ffffff" font-weight="normal" text-anchor="start" textLength="44" lengthAdjust="spacingAndGlyphs" stroke="#ffffff" stroke-width="0.45">1.7000</text>
<text x="1477.7" y="198.45" font-size="14.5" fill="#ffffff" font-weight="normal" text-anchor="start" textLength="44" lengthAdjust="spacingAndGlyphs" stroke="#ffffff" stroke-width="0.45">1.6000</text>
<text x="1477.7" y="250.45" font-size="14.5" fill="#ffffff" font-weight="normal" text-anchor="start" textLength="44" lengthAdjust="spacingAndGlyphs" stroke="#ffffff" stroke-width="0.45">1.5000</text>
<text x="1477.7" y="302.55" font-size="14.5" fill="#ffffff" font-weight="normal" text-anchor="start" textLength="44" lengthAdjust="spacingAndGlyphs" stroke="#ffffff" stroke-width="0.45">1.4000</text>
<text x="1477.7" y="406.45" font-size="14.5" fill="#ffffff" font-weight="normal" text-anchor="start" textLength="44" lengthAdjust="spacingAndGlyphs" stroke="#ffffff" stroke-width="0.45">1.2000</text>
<text x="1477.7" y="457.55" font-size="14.5" fill="#ffffff" font-weight="normal" text-anchor="start" textLength="44" lengthAdjust="spacingAndGlyphs" stroke="#ffffff" stroke-width="0.45">1.1000</text>
<text x="1477.7" y="509.55" font-size="14.5" fill="#ffffff" font-weight="normal" text-anchor="start" textLength="44" lengthAdjust="spacingAndGlyphs" stroke="#ffffff" stroke-width="0.45">1.0000</text>
<text x="1477.7" y="561.45" font-size="14.5" fill="#ffffff" font-weight="normal" text-anchor="start" textLength="44" lengthAdjust="spacingAndGlyphs" stroke="#ffffff" stroke-width="0.45">0.9000</text>
</g>
<rect x="1485.5" y="42.5" width="43" height="22" rx="4.5" fill="#9598a1" stroke="#c9ccd4" stroke-width="1"/>
<text x="1489.9" y="57.0" font-size="15" fill="#ffffff" font-weight="normal" text-anchor="start" textLength="34.3" lengthAdjust="spacingAndGlyphs" stroke="#ffffff" stroke-width="0.45">USDT</text>
<text x="1477" y="590.5500000000001" font-size="14.5" fill="#ffffff" font-weight="normal" text-anchor="start" textLength="44.7" lengthAdjust="spacingAndGlyphs" stroke="#ffffff" stroke-width="0.45">0.1000</text>
<text x="1477" y="635.6500000000001" font-size="14.5" fill="#ffffff" font-weight="normal" text-anchor="start" textLength="44.7" lengthAdjust="spacingAndGlyphs" stroke="#ffffff" stroke-width="0.45">0.0000</text>
<text x="1477" y="691.5500000000001" font-size="14.5" fill="#ffffff" font-weight="normal" text-anchor="start" textLength="36.7" lengthAdjust="spacingAndGlyphs" stroke="#ffffff" stroke-width="0.45">80.00</text>
<text x="1477" y="743.45" font-size="14.5" fill="#ffffff" font-weight="normal" text-anchor="start" textLength="36.7" lengthAdjust="spacingAndGlyphs" stroke="#ffffff" stroke-width="0.45">40.00</text>
<path d="M1386,332 H1541 a2,2 0 0 1 2,2 V369 a2,2 0 0 1 -2,2 H1464 V353 H1386 a2,2 0 0 1 -2,-2 V334 a2,2 0 0 1 2,-2 Z" fill="#131722"/>
<text x="1391.3" y="347.3" font-size="15.4" fill="#ffffff" font-weight="normal" text-anchor="start" textLength="63.2" lengthAdjust="spacingAndGlyphs" stroke="#ffffff" stroke-width="0.45">IOTAUSDT</text>
<text x="1477.5" y="347.3" font-size="14.5" fill="#ffffff" font-weight="normal" text-anchor="start" textLength="44" lengthAdjust="spacingAndGlyphs" stroke="#ffffff" stroke-width="0.45">1.3134</text>
<text x="1476.8" y="365.6" font-size="14.5" fill="#c4c7cf" font-weight="normal" text-anchor="start" textLength="57.5" lengthAdjust="spacingAndGlyphs" stroke="#c4c7cf" stroke-width="0.12">09:45:52</text>
<text x="41.3" y="771.2" font-size="14.8" fill="#ffffff" font-weight="bold" text-anchor="start" textLength="26.4" lengthAdjust="spacingAndGlyphs" stroke="#ffffff" stroke-width="0.15">Aug</text>
<text x="218.3" y="771.2" font-size="14.5" fill="#ffffff" font-weight="normal" text-anchor="middle" stroke="#ffffff" stroke-width="0.3">16</text>
<text x="380.1" y="771.2" font-size="14.8" fill="#ffffff" font-weight="bold" text-anchor="start" textLength="25.1" lengthAdjust="spacingAndGlyphs" stroke="#ffffff" stroke-width="0.15">Sep</text>
<text x="523.4" y="771.2" font-size="14.5" fill="#ffffff" font-weight="normal" text-anchor="middle" stroke="#ffffff" stroke-width="0.3">13</text>
<text x="708.2" y="771.2" font-size="14.8" fill="#ffffff" font-weight="bold" text-anchor="start" textLength="22.9" lengthAdjust="spacingAndGlyphs" stroke="#ffffff" stroke-width="0.15">Oct</text>
<text x="828" y="771.2" font-size="14.5" fill="#ffffff" font-weight="normal" text-anchor="middle" stroke="#ffffff" stroke-width="0.3">11</text>
<text x="937.7" y="771.2" font-size="14.5" fill="#ffffff" font-weight="normal" text-anchor="middle" stroke="#ffffff" stroke-width="0.3">21</text>
<text x="1045.0" y="771.2" font-size="14.8" fill="#ffffff" font-weight="bold" text-anchor="start" textLength="25.8" lengthAdjust="spacingAndGlyphs" stroke="#ffffff" stroke-width="0.15">Nov</text>
<text x="1210.8" y="771.2" font-size="14.5" fill="#ffffff" font-weight="normal" text-anchor="middle" stroke="#ffffff" stroke-width="0.3">15</text>
<text x="1372.3" y="771.2" font-size="14.8" fill="#ffffff" font-weight="bold" text-anchor="start" textLength="25.0" lengthAdjust="spacingAndGlyphs" stroke="#ffffff" stroke-width="0.15">Dec</text>
<g fill="#131722"><path d="M13,799 H22.8 V811 H18 V803.5 H13 Z"/><circle cx="26.8" cy="801.5" r="2.7"/><path d="M32.2,799 H37.5 L32.3,811 H27 Z"/></g>
<text x="41.9" y="810.8" font-size="15.9" fill="#1e222d" font-weight="normal" text-anchor="start" textLength="87.7" lengthAdjust="spacingAndGlyphs" stroke="#1e222d" stroke-width="0">TradingView</text>
</svg>
</body></html>
